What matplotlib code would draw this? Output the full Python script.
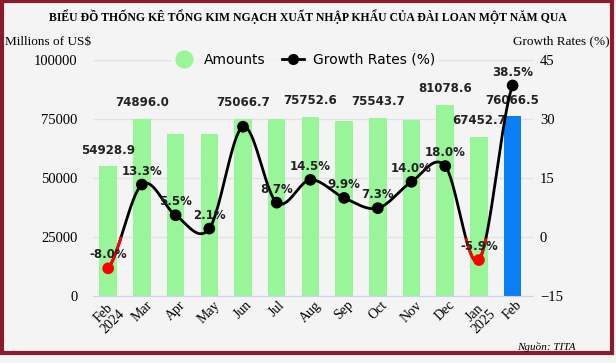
import numpy as np
import matplotlib.pyplot as plt
from matplotlib.lines import Line2D
from matplotlib.patches import Rectangle

months = ["Feb\n2024", "Mar", "Apr", "May", "Jun", "Jul", "Aug", "Sep",
          "Oct", "Nov", "Dec", "Jan\n2025", "Feb"]
amounts = [54928.9, 74896.0, 68600, 68500, 75066.7, 74800, 75752.6, 74100,
           75543.7, 74500, 81078.6, 67452.7, 76066.5]
growth = [-8.0, 13.3, 5.5, 2.1, 28.0, 8.7, 14.5, 9.9, 7.3, 14.0, 18.0, -5.9, 38.5]
growth_labels = ["-8.0%", "13.3%", "5.5%", "2.1%", "", "8.7%", "14.5%", "9.9%",
                 "7.3%", "14.0%", "18.0%", "-5.9%", "38.5%"]
amount_labels = ["54928.9", "74896.0", "", "", "75066.7", "", "75752.6", "",
                 "75543.7", "", "81078.6", "67452.7", "76066.5"]

bg = "#f4f4f4"
serif = "Liberation Serif"

fig = plt.figure(figsize=(6.16, 3.63), dpi=100, facecolor=bg)
ax = fig.add_axes([0.151, 0.185, 0.714, 0.65], facecolor=bg)
ax2 = ax.twinx()

x = np.arange(len(months))
colors = ["#98f598"] * (len(months) - 1) + ["#0a7ef5"]
ax.bar(x, amounts, width=0.52, color=colors, zorder=2)
ax.set_ylim(0, 100000)
ax.set_yticks([0, 25000, 50000, 75000, 100000])
ax.set_xlim(-0.45, 12.6)
ax.grid(axis="y", color="#e2e2e2", linewidth=1, zorder=0)
ax.set_axisbelow(True)
for s in ["top", "right", "left"]:
    ax.spines[s].set_visible(False)
ax.spines["bottom"].set_color("#c8d4ee")
ax.tick_params(axis="y", length=0, pad=11, labelsize=10.5)
ax.tick_params(axis="x", length=0, pad=2, labelsize=10)
ax.set_xticks(x)
ax.set_xticklabels(months, rotation=45, ha="center", va="top", family=serif,
                   linespacing=0.95)
for lbl in ax.get_yticklabels():
    lbl.set_family(serif)

for xi, a, t in zip(x, amounts, amount_labels):
    if t:
        ax.annotate(t, (xi, a), xytext=(0, 7), textcoords="offset points",
                    ha="center", va="bottom", fontsize=8.5, fontweight="bold",
                    color="#222222", zorder=6)

# smooth line (Catmull-Rom)
g = np.array(growth, dtype=float)
P = np.concatenate([[g[0]], g, [g[-1]]])
xs, ys = [], []
t = np.linspace(0, 1, 40, endpoint=False)
for i in range(len(g) - 1):
    p0, p1, p2, p3 = P[i], P[i + 1], P[i + 2], P[i + 3]
    y = 0.5 * ((2 * p1) + (-p0 + p2) * t + (2 * p0 - 5 * p1 + 4 * p2 - p3) * t ** 2
               + (-p0 + 3 * p1 - 3 * p2 + p3) * t ** 3)
    xs.append(i + t)
    ys.append(y)
xs = np.concatenate(xs + [[len(g) - 1]])
ys = np.concatenate(ys + [[g[-1]]])

ax2.plot(xs, ys, color="black", linewidth=2, zorder=3)
neg = np.ma.masked_where(ys >= 0, ys)
ax2.plot(xs, neg, color="red", linewidth=2, zorder=4)
pc = ["red" if v < 0 else "black" for v in growth]
ax2.scatter(x, growth, s=55, c=pc, zorder=5)
for xi, v, t in zip(x, growth, growth_labels):
    if t:
        ax2.annotate(t, (xi, v), xytext=(0, 5), textcoords="offset points",
                     ha="center", va="bottom", fontsize=8.5, fontweight="bold",
                     color="#222222", zorder=6)

ax2.set_ylim(-15, 45)
ax2.set_yticks([-15, 0, 15, 30, 45])
for s in ["top", "right", "left", "bottom"]:
    ax2.spines[s].set_visible(False)
ax2.tick_params(axis="y", length=0, pad=5, labelsize=10.5)
for lbl in ax2.get_yticklabels():
    lbl.set_family(serif)

handles = [
    Line2D([], [], marker="o", color="none", markerfacecolor="#98f598",
           markeredgecolor="#98f598", markersize=12, label="Amounts"),
    Line2D([], [], marker="o", color="black", linewidth=2, markersize=7,
           label="Growth Rates (%)"),
]
leg = ax.legend(handles=handles, loc="center", bbox_to_anchor=(0.48, 1.0),
                ncol=2, frameon=True, fontsize=10, handlelength=1.6,
                columnspacing=1.2, borderpad=0.2, handletextpad=0.6)
leg.get_frame().set_facecolor(bg)
leg.get_frame().set_edgecolor(bg)
leg.set_zorder(10)

fig.text(0.5, 0.953, "BIỂU ĐỒ THỐNG KÊ TỔNG KIM NGẠCH XUẤT NHẬP KHẨU CỦA ĐÀI LOAN MỘT NĂM QUA",
         ha="center", va="center", family=serif, fontweight="bold", fontsize=8.5)
fig.text(0.008, 0.885, "Millions of US$", ha="left", va="center", family=serif,
         fontsize=9.5)
fig.text(0.99, 0.885, "Growth Rates (%)", ha="right", va="center", family=serif,
         fontsize=9.5)
fig.text(0.935, 0.045, "Nguồn: TITA", ha="right", va="center", family=serif,
         style="italic", fontsize=8)

fig.add_artist(Rectangle((0.003, 0.028), 0.99, 0.968, transform=fig.transFigure,
                         fill=False, edgecolor="#8b1a2a", linewidth=3))

fig.savefig("out.png", dpi=100, facecolor=bg)
